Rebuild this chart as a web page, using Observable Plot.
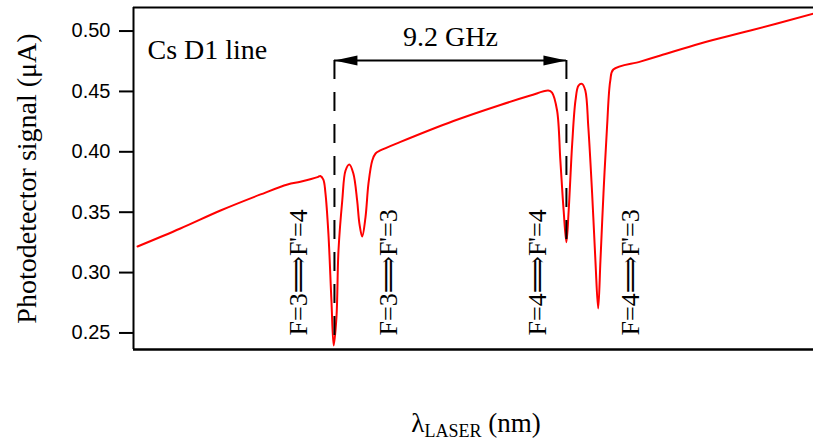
<!DOCTYPE html>
<html>
<head>
<meta charset="utf-8">
<script src="https://cdn.jsdelivr.net/npm/d3@7"></script>
<script src="https://cdn.jsdelivr.net/npm/@observablehq/plot@0.6"></script>
<style>
  html, body { margin: 0; padding: 0; background: #fff; }
  #chart svg { display: block; }
</style>
</head>
<body>
<div id="chart"></div>
<script>
// Detuning (GHz, relative to the F=3 -> F'=4 line) and photodetector signal (µA)
const detuning = [-7.81, -6.11, -4.52, -2.93, -1.86, -1.35, -0.67, -0.56, -0.44, -0.36,
  -0.24, -0.12, -0.03, 0.08, 0.16, 0.31, 0.44, 0.59, 0.75, 0.90,
  0.99, 1.10, 1.23, 1.35, 1.50, 1.63, 1.82, 2.62, 4.72, 6.58,
  7.77, 8.48, 8.63, 8.83, 8.96, 9.09, 9.20, 9.29, 9.43, 9.56,
  9.68, 9.82, 9.95, 10.07, 10.22, 10.35, 10.46, 10.55, 10.67, 10.81,
  10.94, 11.06, 12.13, 12.93, 14.51, 16.50, 19.00];
const signal = [0.3216, 0.3365, 0.3514, 0.3647, 0.3729, 0.3752, 0.3790, 0.3800, 0.3770, 0.3665,
  0.3324, 0.2769, 0.2396, 0.2631, 0.3183, 0.3597, 0.3845, 0.3895, 0.3820, 0.3597,
  0.3406, 0.3299, 0.3456, 0.3738, 0.3928, 0.3986, 0.4011, 0.4082, 0.4255, 0.4388,
  0.4466, 0.4507, 0.4491, 0.4342, 0.3928, 0.3514, 0.3252, 0.3514, 0.4069, 0.4425,
  0.4549, 0.4563, 0.4507, 0.4201, 0.3655, 0.3100, 0.2703, 0.3100, 0.3655, 0.4201,
  0.4590, 0.4681, 0.4747, 0.4797, 0.4897, 0.5004, 0.5145];

const yTicks = [0.25, 0.30, 0.35, 0.40, 0.45, 0.50];
const yDomain = [0.2363, 0.5195];
const xDomain = [-7.97, 19.0];

const transitionLabels = ["F=3\u27F9F'=4", "F=3\u27F9F'=3", "F=4\u27F9F'=4", "F=4\u27F9F'=3"];
const transitionX = [-1.43, 2.14, 8.05, 11.74];
const transitionLabelBase = 0.2479;

const splitLines = [0, 9.2];           // hyperfine splitting markers (GHz)
const splitLineBottom = [0.2396, 0.3252];
const arrowY = 0.4756;
const splitText = "9.2 GHz";
const splitTextY = 0.4954;
const titleText = "Cs D1 line";
const yLabel = "Photodetector signal (\u03BCA)";

const data = detuning.map((x, i) => ({x, y: signal[i]}));
const dashData = splitLines.map((x, i) => ({x, bottom: splitLineBottom[i]}));
const labelData = transitionLabels.map((t, i) => ({t, x: transitionX[i]}));

const headRight = {draw(c) { c.moveTo(0, 0); c.lineTo(-23, -5); c.lineTo(-23, 5); c.closePath(); }};
const headLeft = {draw(c) { c.moveTo(0, 0); c.lineTo(23, -5); c.lineTo(23, 5); c.closePath(); }};

const serif = "'Liberation Serif', 'DejaVu Serif', serif";
const sans = "'Liberation Sans', Arial, sans-serif";

const chart = Plot.plot({
  width: 813,
  height: 442,
  marginLeft: 133,
  marginRight: 0,
  marginTop: 7,
  marginBottom: 93,
  style: {background: "#fff", color: "#000", overflow: "visible"},
  x: {domain: xDomain, axis: null},
  y: {domain: yDomain, axis: null},
  marks: [
    Plot.ruleY([yDomain[1]], {stroke: "#000", strokeWidth: 2}),
    Plot.ruleY([yDomain[0]], {stroke: "#000", strokeWidth: 2.5}),
    Plot.ruleX([xDomain[0]], {stroke: "#000", strokeWidth: 2}),
    Plot.axisY(yTicks, {tickSize: 14, tickPadding: 9, strokeWidth: 2, tickFormat: d3.format(".2f"),
      fontSize: 20, fontFamily: sans, label: null}),
    Plot.line(data, {x: "x", y: "y", stroke: "#ff0000", strokeWidth: 2, curve: "catmull-rom"}),
    Plot.ruleX(dashData, {x: "x", y1: arrowY, y2: "bottom", stroke: "#000", strokeWidth: 2, strokeDasharray: "19,13"}),
    Plot.ruleY([arrowY], {x1: splitLines[0], x2: splitLines[1], stroke: "#000", strokeWidth: 2}),
    Plot.dot([splitLines[0]], {x: d => d, y: arrowY, symbol: headLeft, fill: "#000", stroke: "none"}),
    Plot.dot([splitLines[1]], {x: d => d, y: arrowY, symbol: headRight, fill: "#000", stroke: "none"}),
    Plot.text([splitText], {x: (splitLines[0] + splitLines[1]) / 2, y: splitTextY, text: d => d,
      fontFamily: serif, fontSize: 28}),
    Plot.text([titleText], {frameAnchor: "top-left", dx: 14, dy: 32, textAnchor: "start", text: d => d,
      fontFamily: serif, fontSize: 28}),
    Plot.text(labelData, {x: "x", y: transitionLabelBase, text: "t", rotate: -90, textAnchor: "start",
      fontFamily: serif, fontSize: 26}),
    Plot.text([yLabel], {frameAnchor: "left", dx: -106, rotate: -90, textAnchor: "middle", text: d => d,
      fontFamily: serif, fontSize: 28})
  ]
});

// x-axis label with subscript
const svg = d3.select(chart);
const xl = svg.append("text")
  .attr("x", 476).attr("y", 432)
  .attr("text-anchor", "middle")
  .attr("font-family", serif)
  .attr("font-size", 27)
  .attr("fill", "#000");
xl.append("tspan").text("\u03BB");
xl.append("tspan").attr("font-size", 18).attr("dy", 5).text("LASER");
xl.append("tspan").attr("dy", -5).text(" (nm)");

document.getElementById("chart").appendChild(chart);
</script>
</body>
</html>
